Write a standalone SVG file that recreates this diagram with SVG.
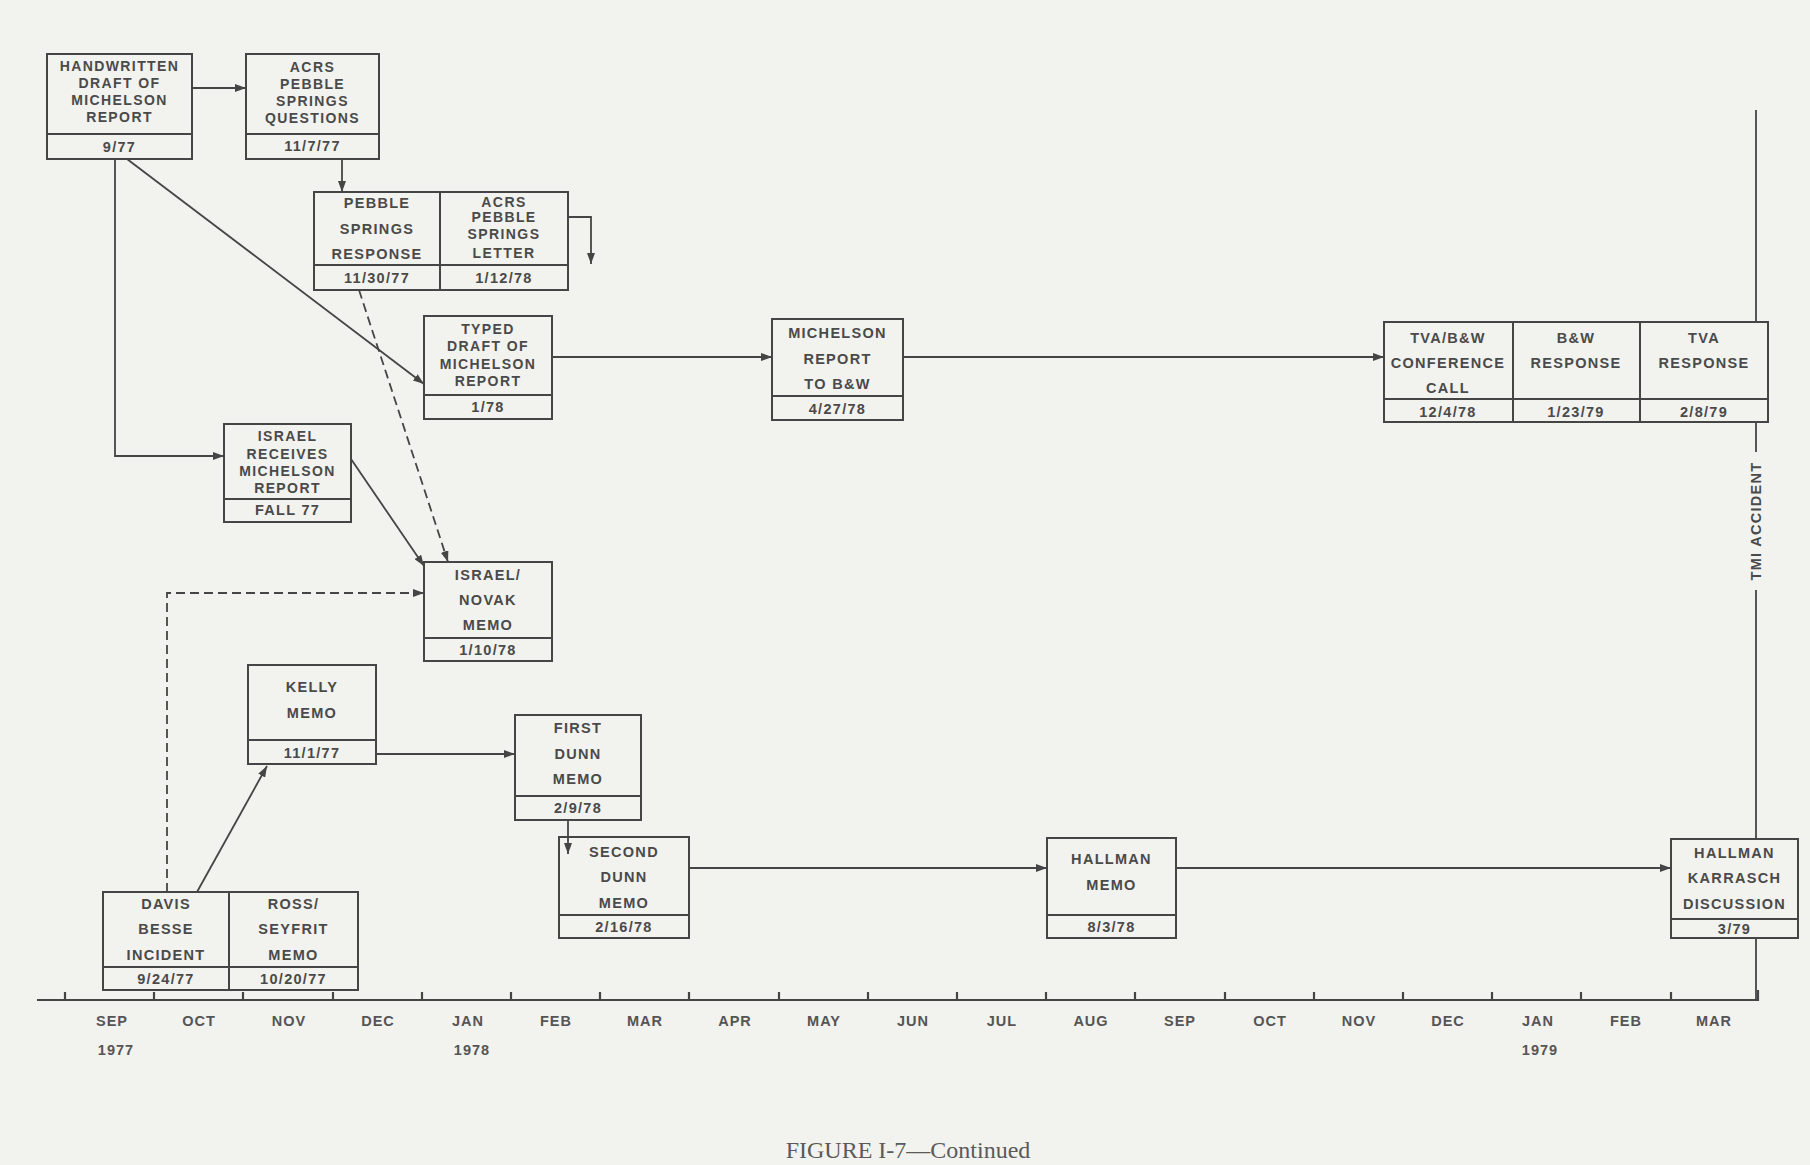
<svg xmlns="http://www.w3.org/2000/svg" width="1810" height="1165" viewBox="0 0 1810 1165">
<defs>
<marker id="arr" markerUnits="userSpaceOnUse" markerWidth="11" markerHeight="8" refX="11" refY="4" orient="auto">
<path d="M0,0 L11,4 L0,8 z" fill="#454545"/>
</marker>
<style>
.box{fill:none;stroke:#454545;stroke-width:2}
.div{stroke:#454545;stroke-width:2}
.t{font-family:"Liberation Sans",Arial,sans-serif;font-weight:bold;font-size:14.5px;fill:#4a4a4a;text-anchor:middle;letter-spacing:1.3px}
.t4{font-size:14px;letter-spacing:1.4px}
.c{fill:none;stroke:#454545;stroke-width:1.8}
.dash{stroke-dasharray:9 5}
.ax{stroke:#454545;stroke-width:2.2;fill:none}
.m{font-family:"Liberation Sans",Arial,sans-serif;font-weight:bold;font-size:14.5px;fill:#555;text-anchor:middle;letter-spacing:1px}
.cap{font-family:"Liberation Serif","Times New Roman",serif;font-size:24px;fill:#5a5a5a;text-anchor:middle}
</style>
</defs>
<rect width="1810" height="1165" fill="#f2f2ef"/>

<g id="connectors">
<path class="c" d="M192 88 H246" marker-end="url(#arr)"/>
<path class="c" d="M342 159 V192" marker-end="url(#arr)"/>
<path class="c" d="M568 217 H591 V264" marker-end="url(#arr)"/>
<path class="c" d="M127 159 L424 384" marker-end="url(#arr)"/>
<path class="c" d="M115 159 V456 H224" marker-end="url(#arr)"/>
<path class="c dash" d="M359 290 L448 562" marker-end="url(#arr)"/>
<path class="c" d="M351 459 L424 566" marker-end="url(#arr)"/>
<path class="c dash" d="M167 892 V593 H424" marker-end="url(#arr)"/>
<path class="c" d="M197 892 L267 766" marker-end="url(#arr)"/>
<path class="c" d="M376 754 H515" marker-end="url(#arr)"/>
<path class="c" d="M568 820 V854" marker-end="url(#arr)"/>
<path class="c" d="M552 357 H772" marker-end="url(#arr)"/>
<path class="c" d="M903 357 H1384" marker-end="url(#arr)"/>
<path class="c" d="M689 868 H1047" marker-end="url(#arr)"/>
<path class="c" d="M1176 868 H1671" marker-end="url(#arr)"/>
<path class="c" d="M1756 110 V322 M1756 422 V452 M1756 590 V839 M1756 938 V1000"/>
</g>

<g id="tmi-label">
<text class="t" transform="translate(1761 521) rotate(-90)">TMI ACCIDENT</text>
</g>

<g id="axis">
<path class="ax" d="M37 1000 H1758 V990"/>
<path class="ax" d="M65 992 V1000 M154 992 V1000 M243 992 V1000 M333 992 V1000 M422 992 V1000 M511 992 V1000 M600 992 V1000 M689 992 V1000 M779 992 V1000 M868 992 V1000 M957 992 V1000 M1046 992 V1000 M1135 992 V1000 M1225 992 V1000 M1314 992 V1000 M1403 992 V1000 M1492 992 V1000 M1581 992 V1000 M1671 992 V1000"/>
<text class="m" x="112" y="1026">SEP</text>
<text class="m" x="199" y="1026">OCT</text>
<text class="m" x="289" y="1026">NOV</text>
<text class="m" x="378" y="1026">DEC</text>
<text class="m" x="468" y="1026">JAN</text>
<text class="m" x="556" y="1026">FEB</text>
<text class="m" x="645" y="1026">MAR</text>
<text class="m" x="735" y="1026">APR</text>
<text class="m" x="824" y="1026">MAY</text>
<text class="m" x="913" y="1026">JUN</text>
<text class="m" x="1002" y="1026">JUL</text>
<text class="m" x="1091" y="1026">AUG</text>
<text class="m" x="1180" y="1026">SEP</text>
<text class="m" x="1270" y="1026">OCT</text>
<text class="m" x="1359" y="1026">NOV</text>
<text class="m" x="1448" y="1026">DEC</text>
<text class="m" x="1538" y="1026">JAN</text>
<text class="m" x="1626" y="1026">FEB</text>
<text class="m" x="1714" y="1026">MAR</text>
<text class="m" x="116" y="1055">1977</text>
<text class="m" x="472" y="1055">1978</text>
<text class="m" x="1540" y="1055">1979</text>
</g>

<g id="n-handwritten">
<rect class="box" x="47" y="54" width="145" height="105"/>
<line class="div" x1="47" y1="134" x2="192" y2="134"/>
<text class="t t4" x="119.5" y="71">HANDWRITTEN</text>
<text class="t t4" x="119.5" y="88">DRAFT OF</text>
<text class="t t4" x="119.5" y="105">MICHELSON</text>
<text class="t t4" x="119.5" y="122">REPORT</text>
<text class="t" x="119.5" y="152">9/77</text>
</g>

<g id="n-acrs-questions">
<rect class="box" x="246" y="54" width="133" height="105"/>
<line class="div" x1="246" y1="134" x2="379" y2="134"/>
<text class="t t4" x="312.5" y="72">ACRS</text>
<text class="t t4" x="312.5" y="89">PEBBLE</text>
<text class="t t4" x="312.5" y="106">SPRINGS</text>
<text class="t t4" x="312.5" y="123">QUESTIONS</text>
<text class="t" x="312.5" y="151">11/7/77</text>
</g>

<g id="n-pebble">
<rect class="box" x="314" y="192" width="254" height="98"/>
<line class="div" x1="440" y1="192" x2="440" y2="290"/>
<line class="div" x1="314" y1="265" x2="568" y2="265"/>
<text class="t" x="377" y="208">PEBBLE</text>
<text class="t" x="377" y="234">SPRINGS</text>
<text class="t" x="377" y="259">RESPONSE</text>
<text class="t" x="377" y="283">11/30/77</text>
<text class="t t4" x="504" y="207">ACRS</text>
<text class="t t4" x="504" y="222">PEBBLE</text>
<text class="t t4" x="504" y="239">SPRINGS</text>
<text class="t t4" x="504" y="258">LETTER</text>
<text class="t" x="504" y="283">1/12/78</text>
</g>

<g id="n-typed">
<rect class="box" x="424" y="316" width="128" height="103"/>
<line class="div" x1="424" y1="395" x2="552" y2="395"/>
<text class="t t4" x="488" y="334">TYPED</text>
<text class="t t4" x="488" y="351">DRAFT OF</text>
<text class="t t4" x="488" y="369">MICHELSON</text>
<text class="t t4" x="488" y="386">REPORT</text>
<text class="t" x="488" y="412">1/78</text>
</g>

<g id="n-israel-receives">
<rect class="box" x="224" y="424" width="127" height="98"/>
<line class="div" x1="224" y1="499" x2="351" y2="499"/>
<text class="t t4" x="287.5" y="441">ISRAEL</text>
<text class="t t4" x="287.5" y="459">RECEIVES</text>
<text class="t t4" x="287.5" y="476">MICHELSON</text>
<text class="t t4" x="287.5" y="493">REPORT</text>
<text class="t" x="287.5" y="515">FALL 77</text>
</g>

<g id="n-israel-novak">
<rect class="box" x="424" y="562" width="128" height="99"/>
<line class="div" x1="424" y1="638" x2="552" y2="638"/>
<text class="t" x="488" y="580">ISRAEL/</text>
<text class="t" x="488" y="605">NOVAK</text>
<text class="t" x="488" y="630">MEMO</text>
<text class="t" x="488" y="655">1/10/78</text>
</g>

<g id="n-michelson-bw">
<rect class="box" x="772" y="319" width="131" height="101"/>
<line class="div" x1="772" y1="396" x2="903" y2="396"/>
<text class="t" x="837.5" y="338">MICHELSON</text>
<text class="t" x="837.5" y="364">REPORT</text>
<text class="t" x="837.5" y="389">TO B&amp;W</text>
<text class="t" x="837.5" y="414">4/27/78</text>
</g>

<g id="n-tva">
<rect class="box" x="1384" y="322" width="384" height="100"/>
<line class="div" x1="1513" y1="322" x2="1513" y2="422"/>
<line class="div" x1="1640" y1="322" x2="1640" y2="422"/>
<line class="div" x1="1384" y1="399" x2="1768" y2="399"/>
<text class="t" x="1448" y="343">TVA/B&amp;W</text>
<text class="t" x="1448" y="368">CONFERENCE</text>
<text class="t" x="1448" y="393">CALL</text>
<text class="t" x="1576" y="343">B&amp;W</text>
<text class="t" x="1576" y="368">RESPONSE</text>
<text class="t" x="1704" y="343">TVA</text>
<text class="t" x="1704" y="368">RESPONSE</text>
<text class="t" x="1448" y="417">12/4/78</text>
<text class="t" x="1576" y="417">1/23/79</text>
<text class="t" x="1704" y="417">2/8/79</text>
</g>

<g id="n-kelly">
<rect class="box" x="248" y="665" width="128" height="99"/>
<line class="div" x1="248" y1="740" x2="376" y2="740"/>
<text class="t" x="312" y="692">KELLY</text>
<text class="t" x="312" y="718">MEMO</text>
<text class="t" x="312" y="758">11/1/77</text>
</g>

<g id="n-first-dunn">
<rect class="box" x="515" y="715" width="126" height="105"/>
<line class="div" x1="515" y1="796" x2="641" y2="796"/>
<text class="t" x="578" y="733">FIRST</text>
<text class="t" x="578" y="759">DUNN</text>
<text class="t" x="578" y="784">MEMO</text>
<text class="t" x="578" y="813">2/9/78</text>
</g>

<g id="n-second-dunn">
<rect class="box" x="559" y="837" width="130" height="101"/>
<line class="div" x1="559" y1="915" x2="689" y2="915"/>
<text class="t" x="624" y="857">SECOND</text>
<text class="t" x="624" y="882">DUNN</text>
<text class="t" x="624" y="908">MEMO</text>
<text class="t" x="624" y="932">2/16/78</text>
</g>

<g id="n-davis-ross">
<rect class="box" x="103" y="892" width="255" height="98"/>
<line class="div" x1="229" y1="892" x2="229" y2="990"/>
<line class="div" x1="103" y1="967" x2="358" y2="967"/>
<text class="t" x="166" y="909">DAVIS</text>
<text class="t" x="166" y="934">BESSE</text>
<text class="t" x="166" y="960">INCIDENT</text>
<text class="t" x="166" y="984">9/24/77</text>
<text class="t" x="293.5" y="909">ROSS/</text>
<text class="t" x="293.5" y="934">SEYFRIT</text>
<text class="t" x="293.5" y="960">MEMO</text>
<text class="t" x="293.5" y="984">10/20/77</text>
</g>

<g id="n-hallman-memo">
<rect class="box" x="1047" y="838" width="129" height="100"/>
<line class="div" x1="1047" y1="915" x2="1176" y2="915"/>
<text class="t" x="1111.5" y="864">HALLMAN</text>
<text class="t" x="1111.5" y="890">MEMO</text>
<text class="t" x="1111.5" y="932">8/3/78</text>
</g>

<g id="n-hallman-karrasch">
<rect class="box" x="1671" y="839" width="127" height="99"/>
<line class="div" x1="1671" y1="919" x2="1798" y2="919"/>
<text class="t" x="1734.5" y="858">HALLMAN</text>
<text class="t" x="1734.5" y="883">KARRASCH</text>
<text class="t" x="1734.5" y="909">DISCUSSION</text>
<text class="t" x="1734.5" y="934">3/79</text>
</g>

<text class="cap" x="908" y="1158">FIGURE I-7—Continued</text>
</svg>
